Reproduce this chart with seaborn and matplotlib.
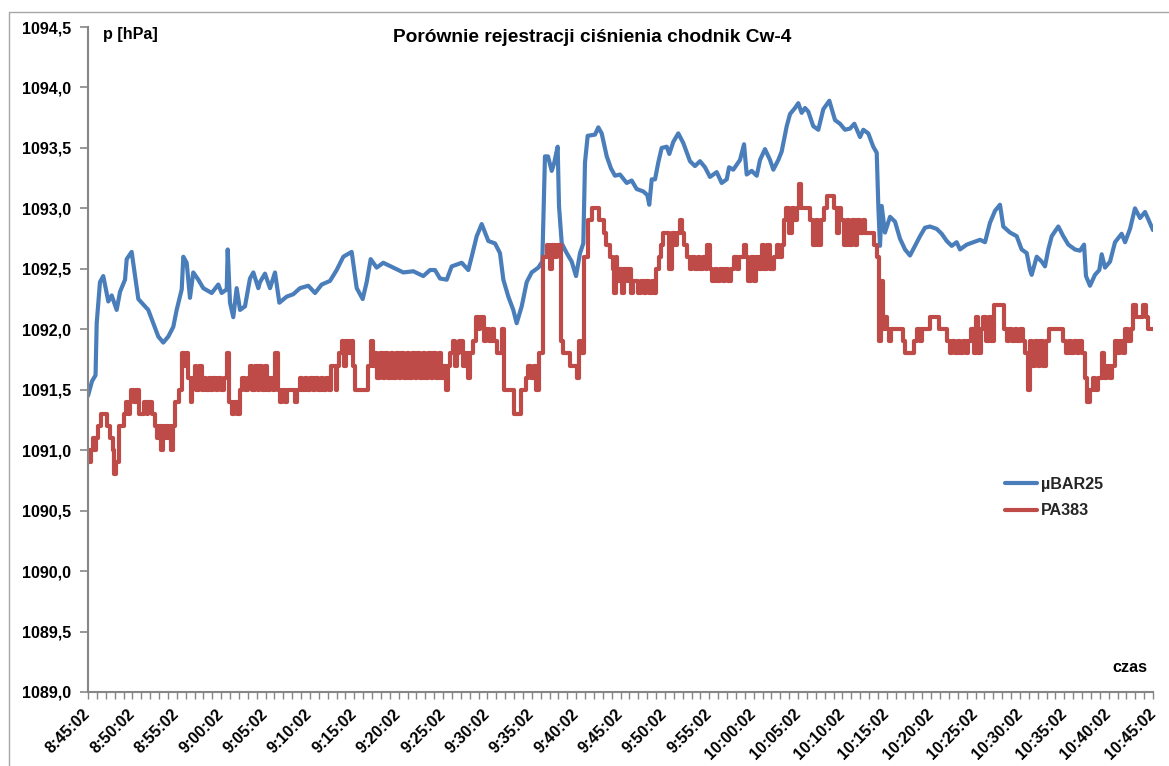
import matplotlib
matplotlib.use("Agg")
import matplotlib.pyplot as plt
from matplotlib.lines import Line2D
from matplotlib.ticker import MultipleLocator, FixedLocator
import seaborn as sns
import pandas as pd

sns.set_theme(style="white")
plt.rcParams['font.family'] = ['Liberation Sans', 'DejaVu Sans']

# Time axis: minutes elapsed since 8:45:02
ubar_min = [
    0.0, 0.45, 0.85, 0.98, 1.35, 1.72, 2.29, 2.67, 3.23, 3.61, 4.17,
    4.36, 4.92, 5.67, 6.79, 7.36, 7.92, 8.48, 9.05, 9.61, 9.99,
    10.56, 10.74, 11.12, 11.49, 11.86, 12.43, 12.99, 13.94, 14.68, 15.06,
    15.63, 15.74, 16.0, 16.37, 16.75, 17.13, 17.69, 18.25, 18.63, 19.19,
    19.38, 19.94, 20.51, 21.07, 21.56, 22.39, 23.13, 23.89, 24.82, 25.58,
    26.33, 27.27, 28.02, 28.77, 29.71, 30.28, 30.95, 31.40, 31.85, 32.53,
    33.27, 34.40, 35.53, 36.65, 37.78, 38.54, 39.10, 39.66, 40.42, 40.98,
    42.11, 42.85, 43.23, 43.80, 44.36, 45.11, 45.86, 46.42, 46.80, 47.36,
    47.92, 48.30, 48.87, 49.43, 49.99, 50.74, 51.19, 51.49, 51.83, 52.25,
    52.51, 52.92, 53.07, 53.38, 53.94, 54.50, 54.99, 55.44, 55.81, 56.00,
    56.30, 57.13, 57.50, 57.88, 58.45, 58.93, 59.38, 59.94, 60.70, 61.26,
    61.82, 62.57, 63.02, 63.24, 63.52, 63.89, 64.26, 64.64, 65.21, 65.50,
    65.95, 66.51, 67.08, 67.83, 68.39, 68.96, 69.52, 70.08, 70.84, 71.40,
    71.97, 72.23, 72.71, 73.09, 73.46, 73.92, 74.22, 74.78, 75.35, 75.72,
    76.28, 76.85, 77.22, 77.78, 78.16, 78.73, 79.10, 79.66, 80.03, 80.41,
    80.79, 81.16, 81.72, 82.29, 82.85, 83.53, 84.17, 84.73, 85.30, 85.86,
    86.35, 86.99, 87.36, 87.92, 88.48, 88.87, 89.05, 89.24, 89.43, 89.80,
    90.37, 90.93, 91.49, 92.06, 92.62, 93.18, 93.75, 94.31, 94.87, 95.63,
    96.19, 96.76, 97.32, 97.88, 98.25, 99.01, 99.75, 100.51, 101.07, 101.63,
    102.20, 102.76, 103.13, 103.89, 104.64, 105.20, 105.77, 106.14, 106.33, 106.90,
    107.46, 107.83, 108.20, 108.59, 109.33, 109.89, 110.46, 111.21, 111.77, 112.23,
    112.45, 112.90, 113.46, 113.95, 114.22, 114.59, 115.16, 115.72, 116.47, 116.85,
    117.41, 117.97, 118.54, 119.10, 119.47, 120.0,
]
ubar_hpa = [
    1091.45, 1091.57, 1091.62, 1092.05, 1092.39, 1092.44, 1092.23, 1092.28, 1092.16, 1092.31, 1092.41,
    1092.58, 1092.64, 1092.25, 1092.16, 1092.05, 1091.94, 1091.89, 1091.94, 1092.02, 1092.16,
    1092.33, 1092.60, 1092.55, 1092.26, 1092.47, 1092.41, 1092.34, 1092.30, 1092.37, 1092.30,
    1092.33, 1092.66, 1092.22, 1092.10, 1092.34, 1092.16, 1092.19, 1092.42, 1092.47, 1092.34,
    1092.39, 1092.46, 1092.34, 1092.47, 1092.22, 1092.27, 1092.29, 1092.34, 1092.36, 1092.30,
    1092.37, 1092.40, 1092.49, 1092.60, 1092.64, 1092.34, 1092.25, 1092.39, 1092.58, 1092.51,
    1092.55, 1092.51, 1092.47, 1092.48, 1092.44, 1092.49, 1092.49, 1092.42, 1092.41, 1092.52,
    1092.55, 1092.49, 1092.60, 1092.77, 1092.87, 1092.73, 1092.71, 1092.63, 1092.41, 1092.27,
    1092.16, 1092.05, 1092.19, 1092.39, 1092.47, 1092.51, 1092.56, 1093.43, 1093.43, 1093.31,
    1093.37, 1093.51, 1093.02, 1092.71, 1092.63, 1092.56, 1092.44, 1092.63, 1092.71, 1093.38,
    1093.60, 1093.61, 1093.67, 1093.62, 1093.43, 1093.33, 1093.27, 1093.28, 1093.21, 1093.23,
    1093.16, 1093.14, 1093.11, 1093.03, 1093.24, 1093.24, 1093.38, 1093.50, 1093.51, 1093.45,
    1093.55, 1093.62, 1093.54, 1093.39, 1093.35, 1093.39, 1093.34, 1093.26, 1093.30, 1093.21,
    1093.24, 1093.34, 1093.32, 1093.36, 1093.40, 1093.53, 1093.28, 1093.31, 1093.27, 1093.40,
    1093.49, 1093.40, 1093.32, 1093.40, 1093.47, 1093.68, 1093.78, 1093.83, 1093.87, 1093.79,
    1093.83, 1093.80, 1093.68, 1093.65, 1093.82, 1093.89, 1093.73, 1093.70, 1093.65, 1093.66,
    1093.70, 1093.59, 1093.65, 1093.62, 1093.51, 1093.46, 1093.02, 1092.69, 1093.02, 1092.80,
    1092.93, 1092.89, 1092.75, 1092.66, 1092.61, 1092.69, 1092.77, 1092.84, 1092.85, 1092.83,
    1092.79, 1092.73, 1092.69, 1092.72, 1092.66, 1092.70, 1092.72, 1092.74, 1092.72, 1092.88,
    1092.98, 1093.03, 1092.85, 1092.80, 1092.77, 1092.66, 1092.63, 1092.49, 1092.45, 1092.60,
    1092.56, 1092.52, 1092.66, 1092.77, 1092.85, 1092.77, 1092.70, 1092.66, 1092.65, 1092.70,
    1092.44, 1092.36, 1092.45, 1092.49, 1092.62, 1092.51, 1092.56, 1092.72, 1092.79, 1092.72,
    1092.83, 1093.00, 1092.92, 1092.97, 1092.91, 1092.82,
]

# PA383 reports in 0.1 hPa steps; each reading holds until the next one
pa_min = [
    0.0, 0.2, 0.35, 0.55, 0.75, 0.9, 1.1, 1.45, 2.15, 2.45,
    2.8, 2.95, 3.15, 3.5, 4.1, 4.3, 4.5, 4.7, 4.9, 5.2,
    5.4, 5.8, 6.3, 6.6, 6.8, 7.2, 7.5, 7.8, 8.0, 8.2,
    8.4, 8.6, 8.8, 9.0, 9.2, 9.4, 9.55, 9.75, 10.2, 10.6,
    10.85, 11.0, 11.3, 11.55, 11.75, 12.0, 12.2, 12.5, 12.8, 13.1,
    13.3, 13.6, 13.9, 14.1, 14.4, 14.7, 15.0, 15.3, 15.7, 15.9,
    16.2, 16.5, 16.8, 17.1, 17.4, 17.7, 18.0, 18.3, 18.5, 18.8,
    19.1, 19.3, 19.6, 19.9, 20.2, 20.5, 20.8, 21.1, 21.4, 21.65,
    21.9, 22.2, 22.4, 23.3, 23.6, 23.9, 24.1, 24.4, 24.7, 25.0,
    25.3, 25.6, 25.9, 26.2, 26.5, 26.8, 27.1, 27.4, 27.9, 28.1,
    28.3, 28.6, 28.9, 29.1, 29.4, 29.6, 29.85, 30.1, 31.6, 31.85,
    32.1, 32.35, 32.6, 32.9, 33.2, 33.5, 33.8, 34.1, 34.4, 34.7,
    35.0, 35.3, 35.6, 35.9, 36.2, 36.5, 36.8, 37.1, 37.4, 37.7,
    38.0, 38.3, 38.6, 38.9, 39.2, 39.5, 39.8, 40.1, 40.35, 40.55,
    40.8, 41.1, 41.35, 41.6, 41.85, 42.2, 42.5, 42.8, 43.0, 43.4,
    43.7, 44.0, 44.2, 44.6, 44.9, 45.2, 45.5, 45.8, 46.1, 46.6,
    46.85, 47.95, 48.75, 49.3, 49.6, 49.9, 50.2, 50.5, 50.8, 51.3,
    51.7, 52.0, 52.3, 52.6, 52.9, 53.25, 53.5, 54.3, 55.1, 55.35,
    55.6, 55.9, 56.3, 56.8, 57.6, 58.1, 58.4, 58.8, 59.1, 59.3,
    59.45, 59.6, 59.9, 60.2, 60.4, 60.7, 60.9, 61.2, 61.4, 62.0,
    62.3, 62.6, 62.9, 63.2, 63.5, 63.8, 64.05, 64.3, 64.6, 64.8,
    65.5, 65.75, 66.1, 66.4, 66.7, 66.95, 67.2, 67.45, 67.8, 68.1,
    68.4, 68.7, 69.0, 69.3, 69.6, 69.8, 70.05, 70.3, 70.6, 70.9,
    71.2, 71.5, 71.8, 72.1, 72.4, 72.8, 73.1, 73.4, 73.9, 74.1,
    74.4, 74.7, 75.0, 75.3, 75.6, 75.9, 76.2, 76.5, 76.9, 77.3,
    77.6, 77.9, 78.2, 78.4, 78.7, 79.0, 79.3, 79.6, 79.9, 80.1,
    80.3, 81.4, 81.7, 82.0, 82.3, 82.6, 82.9, 83.3, 84.1, 84.4,
    84.6, 84.9, 85.2, 85.5, 85.8, 86.1, 86.4, 86.7, 87.0, 87.3,
    87.6, 88.0, 88.6, 88.9, 89.15, 89.35, 89.55, 89.8, 90.0, 90.3,
    90.5, 91.8, 92.1, 93.1, 93.4, 93.7, 94.0, 94.9, 95.9, 96.8,
    97.1, 97.4, 97.7, 98.0, 98.3, 98.6, 98.9, 99.2, 99.5, 99.8,
    100.0, 100.3, 100.6, 100.9, 101.2, 101.5, 101.8, 102.1, 103.2, 103.5,
    103.8, 104.1, 104.4, 104.7, 105.0, 105.3, 105.6, 105.9, 106.15, 106.4,
    106.7, 107.0, 107.3, 107.6, 107.9, 108.3, 109.9, 110.2, 110.5, 110.8,
    111.1, 111.4, 111.7, 112.0, 112.3, 112.6, 112.9, 113.2, 113.5, 113.8,
    114.2, 114.5, 114.8, 115.1, 115.4, 115.7, 116.0, 116.3, 116.6, 116.9,
    117.2, 117.5, 117.8, 118.1, 118.9, 119.2, 119.45, 120.0,
]
pa_hpa = [
    1091.0, 1090.9, 1091.0, 1091.1, 1091.0, 1091.1, 1091.2, 1091.3, 1091.2, 1091.1,
    1091.0, 1090.8, 1090.9, 1091.2, 1091.3, 1091.4, 1091.3, 1091.4, 1091.5, 1091.4,
    1091.5, 1091.3, 1091.4, 1091.3, 1091.4, 1091.3, 1091.2, 1091.1, 1091.2, 1091.0,
    1091.2, 1091.1, 1091.2, 1091.1, 1091.2, 1091.0, 1091.2, 1091.4, 1091.5, 1091.8,
    1091.7, 1091.8, 1091.6, 1091.4, 1091.6, 1091.7, 1091.5, 1091.7, 1091.5, 1091.6,
    1091.5, 1091.6, 1091.5, 1091.6, 1091.5, 1091.6, 1091.5, 1091.6, 1091.8, 1091.4,
    1091.3, 1091.4, 1091.3, 1091.5, 1091.6, 1091.5, 1091.6, 1091.7, 1091.5, 1091.7,
    1091.5, 1091.7, 1091.5, 1091.7, 1091.5, 1091.6, 1091.5, 1091.8, 1091.5, 1091.4,
    1091.5, 1091.4, 1091.5, 1091.4, 1091.5, 1091.6, 1091.5, 1091.6, 1091.5, 1091.6,
    1091.5, 1091.6, 1091.5, 1091.6, 1091.5, 1091.6, 1091.5, 1091.7, 1091.5, 1091.7,
    1091.8, 1091.9, 1091.7, 1091.9, 1091.8, 1091.9, 1091.7, 1091.5, 1091.7, 1091.9,
    1091.7, 1091.8, 1091.6, 1091.8, 1091.6, 1091.8, 1091.6, 1091.8, 1091.6, 1091.8,
    1091.6, 1091.8, 1091.6, 1091.8, 1091.6, 1091.8, 1091.6, 1091.8, 1091.6, 1091.8,
    1091.6, 1091.8, 1091.6, 1091.8, 1091.6, 1091.8, 1091.6, 1091.7, 1091.5, 1091.7,
    1091.8, 1091.9, 1091.7, 1091.8, 1091.9, 1091.7, 1091.8, 1091.6, 1091.8, 1091.9,
    1092.1, 1092.0, 1092.1, 1091.9, 1092.0, 1091.9, 1092.0, 1091.9, 1091.8, 1092.0,
    1091.5, 1091.3, 1091.5, 1091.6, 1091.7, 1091.6, 1091.7, 1091.5, 1091.8, 1092.6,
    1092.7, 1092.5, 1092.7, 1092.6, 1092.7, 1091.9, 1091.8, 1091.7, 1091.6, 1091.9,
    1091.8, 1092.6, 1092.9, 1093.0, 1092.9, 1092.8, 1092.7, 1092.6, 1092.5, 1092.3,
    1092.6, 1092.4, 1092.5, 1092.3, 1092.5, 1092.4, 1092.5, 1092.3, 1092.4, 1092.3,
    1092.4, 1092.3, 1092.4, 1092.3, 1092.4, 1092.3, 1092.5, 1092.6, 1092.7, 1092.8,
    1092.5, 1092.8, 1092.7, 1092.8, 1092.9, 1092.8, 1092.7, 1092.6, 1092.5, 1092.6,
    1092.5, 1092.6, 1092.5, 1092.6, 1092.5, 1092.7, 1092.5, 1092.4, 1092.5, 1092.4,
    1092.5, 1092.4, 1092.5, 1092.4, 1092.5, 1092.6, 1092.5, 1092.6, 1092.7, 1092.6,
    1092.4, 1092.6, 1092.4, 1092.6, 1092.5, 1092.7, 1092.5, 1092.7, 1092.5, 1092.6,
    1092.7, 1092.6, 1092.7, 1092.9, 1093.0, 1092.8, 1093.0, 1092.9, 1093.0, 1093.2,
    1093.0, 1092.9, 1092.7, 1092.9, 1092.7, 1092.9, 1093.0, 1093.1, 1093.0, 1092.8,
    1093.0, 1092.9, 1092.7, 1092.9, 1092.7, 1092.9, 1092.7, 1092.9, 1092.8, 1092.9,
    1092.8, 1092.8, 1092.7, 1092.6, 1091.9, 1092.4, 1092.0, 1092.1, 1092.0, 1091.9,
    1092.0, 1091.9, 1091.8, 1091.9, 1092.0, 1091.9, 1092.0, 1092.1, 1092.0, 1091.9,
    1091.8, 1091.9, 1091.8, 1091.9, 1091.8, 1091.9, 1091.8, 1091.9, 1092.0, 1091.8,
    1092.1, 1091.8, 1092.0, 1092.1, 1091.9, 1092.1, 1091.9, 1092.2, 1092.0, 1091.9,
    1092.0, 1091.9, 1092.0, 1091.9, 1092.0, 1091.9, 1091.8, 1091.5, 1091.9, 1091.7,
    1091.9, 1091.7, 1091.9, 1091.7, 1091.9, 1092.0, 1091.9, 1091.8, 1091.9, 1091.8,
    1091.9, 1091.8, 1091.9, 1091.8, 1091.6, 1091.4, 1091.5, 1091.6, 1091.5, 1091.6,
    1091.8, 1091.6, 1091.7, 1091.6, 1091.7, 1091.9, 1091.8, 1091.9, 1091.8, 1092.0,
    1091.9, 1092.0, 1092.2, 1092.1, 1092.2, 1092.1, 1092.0, 1092.0,
]

series_names = ["µBAR25", "PA383"]
series_colors = ["#4A7EBB", "#BE4B48"]
tick_minutes = list(range(0, 121, 5))
tick_labels = [
    "8:45:02", "8:50:02", "8:55:02", "9:00:02", "9:05:02", "9:10:02",
    "9:15:02", "9:20:02", "9:25:02", "9:30:02", "9:35:02", "9:40:02",
    "9:45:02", "9:50:02", "9:55:02", "10:00:02", "10:05:02", "10:10:02",
    "10:15:02", "10:20:02", "10:25:02", "10:30:02", "10:35:02", "10:40:02",
    "10:45:02",
]
y_ticks = [1089.0 + 0.5 * k for k in range(12)]
title = "Porównie rejestracji ciśnienia chodnik Cw-4"

assert len(ubar_min) == len(ubar_hpa)
assert len(pa_min) == len(pa_hpa)

ubar = pd.DataFrame({"t": ubar_min, "p": ubar_hpa})
pa = pd.DataFrame({"t": pa_min, "p": pa_hpa})

W, H = 1169, 766
FS = 11.6
fig = plt.figure(figsize=(W / 100, H / 100), dpi=100)
fig.patch.set_facecolor("white")
ax = fig.add_axes([88 / W, 74 / H, 1065 / W, 665 / H])
ax.set_facecolor("white")

sns.lineplot(data=ubar, x="t", y="p", ax=ax, color=series_colors[0], linewidth=3.0,
             estimator=None, sort=False, label=series_names[0])
sns.lineplot(data=pa, x="t", y="p", ax=ax, color=series_colors[1], linewidth=3.0,
             estimator=None, sort=False, drawstyle="steps-post", label=series_names[1])

ax.set_xlim(0, 120)
ax.set_ylim(1089.0, 1094.5)
ax.set_xlabel("")
ax.set_ylabel("")

axis_grey = "#868686"
for side in ("top", "right"):
    ax.spines[side].set_visible(False)
for side in ("left", "bottom"):
    ax.spines[side].set_visible(True)
    ax.spines[side].set_color(axis_grey)
    ax.spines[side].set_linewidth(1.5)

ax.yaxis.set_major_locator(FixedLocator(y_ticks))
ax.set_yticklabels([f"{v:.1f}".replace(".", ",") for v in y_ticks],
                   fontsize=FS, fontweight="bold", color="black")
ax.xaxis.set_major_locator(FixedLocator(tick_minutes))
ax.xaxis.set_minor_locator(MultipleLocator(1))
ax.set_xticklabels(tick_labels, rotation=45, ha="right", va="center",
                   rotation_mode="anchor", fontsize=FS, fontweight="bold", color="black")
ax.tick_params(axis="y", which="major", left=True, direction="out", length=6,
               width=1.2, color=axis_grey, pad=6)
ax.tick_params(axis="x", which="both", bottom=True, direction="out", length=5,
               width=1.0, color=axis_grey, pad=9)
ax.grid(False)

handles, labels = ax.get_legend_handles_labels()
ax.legend(handles, labels, loc="upper left", bbox_to_anchor=(1005 / W, 1 - 477 / H),
          bbox_transform=fig.transFigure, frameon=False, handlelength=2.0,
          handletextpad=0.25, labelspacing=0.7, borderpad=0, borderaxespad=0,
          prop={"weight": "bold", "size": FS})

fig.text(592 / W, 1 - 37 / H, title, ha="center", va="center",
         fontsize=13.8, fontweight="bold", color="black")
fig.text(103 / W, 1 - 35 / H, "p [hPa]", ha="left", va="center",
         fontsize=FS, fontweight="bold", color="black")
fig.text(1147 / W, 1 - 667 / H, "czas", ha="right", va="center",
         fontsize=FS, fontweight="bold", color="black")

# outer chart-area frame (top and left edges)
frame_grey = "#a6a6a6"
fig.add_artist(Line2D([9 / W, 1.0], [1 - 11.5 / H, 1 - 11.5 / H],
                      transform=fig.transFigure, color=frame_grey, lw=1.0))
fig.add_artist(Line2D([9 / W, 9 / W], [0.0, 1 - 11.5 / H],
                      transform=fig.transFigure, color=frame_grey, lw=1.0))

fig.savefig("out.png", dpi=100, facecolor="white")
